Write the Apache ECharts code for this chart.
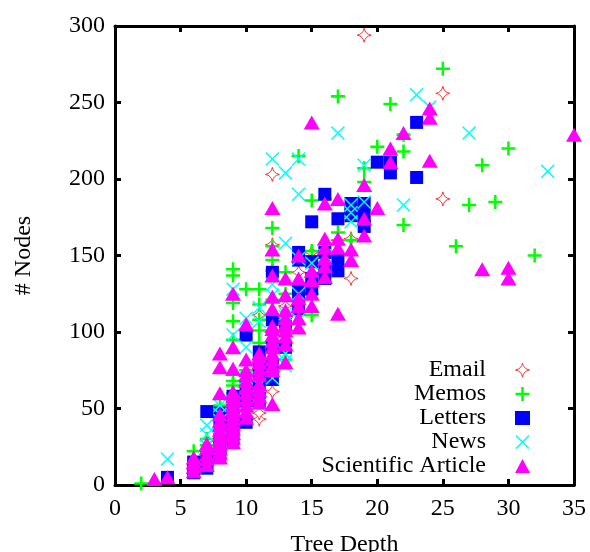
<!DOCTYPE html>
<html><head><meta charset="utf-8">
<script src="https://cdn.jsdelivr.net/npm/echarts@6/dist/echarts.min.js"></script>
<style>html,body{margin:0;padding:0;background:#fff}#c{width:590px;height:552px}</style>
</head><body><div id="c"></div>
<script>
const email=[[7,29],[8,30],[8,38],[9,44],[9,52],[10,62],[11,43],[11,47],[11,60],[11,111],[12,61],[12,75],[12,157],[12,203],[13,100],[13,117],[14,139],[15,130],[15,152],[17,160],[18,135],[18,161],[19,294],[25,187],[25,256]];
const memos=[[2,1],[6,22],[7,26],[7,30],[8,45],[8,52],[9,60],[9,65],[9,68],[9,72],[9,95],[9,107],[9,119],[9,137],[9,141],[10,75],[10,128],[11,93],[11,101],[11,108],[11,118],[11,128],[12,100],[12,121],[12,140],[12,147],[12,156],[12,168],[13,82],[13,88],[13,125],[13,139],[14,130],[14,215],[15,111],[15,125],[15,153],[15,186],[16,150],[16,187],[17,165],[17,254],[18,160],[18,178],[19,198],[19,207],[20,221],[21,249],[22,170],[22,218],[22,229],[25,272],[26,156],[27,183],[28,209],[29,185],[30,220],[32,150]];
const letters=[[4,5],[6,8],[6,12],[6,15],[7,11],[7,14],[7,18],[7,48],[8,20],[8,25],[8,30],[8,40],[8,47],[9,30],[9,38],[9,45],[9,50],[9,58],[10,41],[10,55],[10,65],[10,98],[11,55],[11,62],[11,70],[11,78],[11,87],[12,69],[12,78],[12,90],[12,108],[12,139],[13,90],[13,105],[14,115],[14,124],[14,128],[14,147],[14,152],[15,128],[15,135],[15,146],[15,172],[16,135],[16,142],[16,152],[16,190],[17,140],[17,147],[17,174],[18,176],[18,180],[18,184],[19,169],[19,176],[19,184],[20,211],[21,204],[21,211],[23,201],[23,237]];
const news=[[4,17],[7,25],[7,33],[7,39],[8,42],[8,46],[8,52],[9,50],[9,98],[9,128],[10,70],[10,90],[10,109],[11,52],[11,65],[11,107],[11,116],[12,70],[12,95],[12,124],[12,131],[12,213],[13,78],[13,81],[13,86],[13,110],[13,112],[13,158],[13,204],[14,108],[14,125],[14,148],[14,190],[14,213],[15,145],[16,150],[17,230],[18,172],[18,178],[18,183],[19,185],[19,209],[22,183],[23,255],[24,247],[27,230],[33,205]];
const article=[[3,4],[4,5],[6,9],[6,12],[6,15],[6,18],[7,13],[7,17],[7,20],[7,24],[7,27],[8,18],[8,21],[8,24],[8,27],[8,30],[8,33],[8,36],[8,39],[8,42],[8,46],[8,60],[8,77],[8,86],[9,28],[9,31],[9,34],[9,37],[9,40],[9,43],[9,46],[9,49],[9,52],[9,55],[9,58],[9,61],[9,76],[9,90],[9,125],[10,44],[10,48],[10,52],[10,56],[10,60],[10,64],[10,68],[10,72],[10,75],[10,82],[10,105],[11,54],[11,58],[11,62],[11,66],[11,72],[11,76],[11,80],[11,84],[11,86],[12,53],[12,75],[12,78],[12,82],[12,86],[12,90],[12,94],[12,98],[12,102],[12,104],[12,115],[12,123],[12,137],[12,154],[12,181],[13,80],[13,92],[13,97],[13,101],[13,105],[13,109],[13,114],[13,124],[13,135],[14,103],[14,109],[14,117],[14,122],[14,135],[14,150],[15,117],[15,125],[15,134],[15,140],[15,237],[16,136],[16,143],[16,148],[16,155],[16,161],[16,184],[17,112],[17,155],[17,161],[17,187],[18,147],[18,154],[19,163],[19,174],[19,196],[20,181],[21,211],[21,220],[22,230],[24,212],[24,240],[24,246],[28,141],[30,135],[30,142],[35,229]];
const seriesNames=['Email','Memos','Letters','News','Scientific Article'];
const xTicks=[0,5,10,15,20,25,30,35];
const yTicks=[0,50,100,150,200,250,300];

const starPath='path://M0 -10 Q1.5 -1.5 10 0 Q1.5 1.5 0 10 Q-1.5 1.5 -10 0 Q-1.5 -1.5 0 -10 Z';
const plusPath='path://M-1.8 -10 L1.8 -10 L1.8 -1.8 L10 -1.8 L10 1.8 L1.8 1.8 L1.8 10 L-1.8 10 L-1.8 1.8 L-10 1.8 L-10 -1.8 L-1.8 -1.8 Z';
const crossPath='path://M-10 -8.5 L-8.5 -10 L0 -1.5 L8.5 -10 L10 -8.5 L1.5 0 L10 8.5 L8.5 10 L0 1.5 L-8.5 10 L-10 8.5 L-1.5 0 Z';
const font='"Liberation Serif","Times New Roman",serif';
const frame={lineStyle:{color:'#000',width:3}};
const tick={show:true,inside:true,length:6,lineStyle:{color:'#000',width:3}};

function scatter(i,data,symbol,size,style,keep){
  return {name:seriesNames[i],type:'scatter',data:data,symbol:symbol,symbolSize:size,symbolKeepAspect:keep,clip:false,
    itemStyle:Object.assign({opacity:1},style),emphasis:{disabled:true},animation:false};
}
const chart=echarts.init(document.getElementById('c'),null,{renderer:'canvas'});
chart.setOption({
  animation:false,backgroundColor:'#fff',
  grid:{left:115,right:16,top:26,bottom:67,show:false,outerBoundsMode:'none'},
  textStyle:{fontFamily:font},
  xAxis:[
    {type:'value',min:0,max:35,interval:5,position:'bottom',name:'Tree Depth',nameLocation:'middle',nameGap:48,
     nameTextStyle:{fontFamily:font,fontSize:24,color:'#000'},splitLine:{show:false},axisLine:Object.assign({show:true,onZero:false},frame),axisTick:tick,
     axisLabel:{fontFamily:font,fontSize:24,color:'#000',margin:12,customValues:xTicks,hideOverlap:false}},
    {type:'value',min:0,max:35,interval:5,position:'top',splitLine:{show:false},axisLine:Object.assign({show:true,onZero:false},frame),axisTick:tick,axisLabel:{show:false}}
  ],
  yAxis:[
    {type:'value',min:0,max:300,interval:50,position:'left',name:'# Nodes',nameLocation:'middle',nameGap:79,nameRotate:90,
     nameTextStyle:{fontFamily:font,fontSize:24,color:'#000'},splitLine:{show:false},axisLine:Object.assign({show:true,onZero:false},frame),axisTick:tick,
     axisLabel:{fontFamily:font,fontSize:24,color:'#000',margin:10,customValues:yTicks,hideOverlap:false}},
    {type:'value',min:0,max:300,interval:50,position:'right',splitLine:{show:false},axisLine:Object.assign({show:true,onZero:false},frame),axisTick:tick,axisLabel:{show:false}}
  ],
  legend:{show:true,orient:'vertical',align:'right',right:60,top:358,itemWidth:15,itemHeight:14,itemGap:0,
    selectedMode:false,padding:0,itemStyle:{borderWidth:1,borderJoin:'round'},
    textStyle:{fontFamily:font,fontSize:24,color:'#000',padding:[0,24,0,0],lineHeight:24},
    data:seriesNames},
  series:[
    scatter(0,email,starPath,14,{color:'#fff',borderColor:'#ff3030',borderWidth:1,borderJoin:'round'},true),
    scatter(1,memos,plusPath,14,{color:'#00ff00',borderWidth:0},true),
    scatter(2,letters,'rect',13,{color:'#0000ff',borderWidth:0},true),
    scatter(3,news,crossPath,14,{color:'#00ffff',borderWidth:0},true),
    scatter(4,article,'triangle',[16,14],{color:'#ff00ff',borderWidth:0},false)
  ]
});
</script></body></html>
